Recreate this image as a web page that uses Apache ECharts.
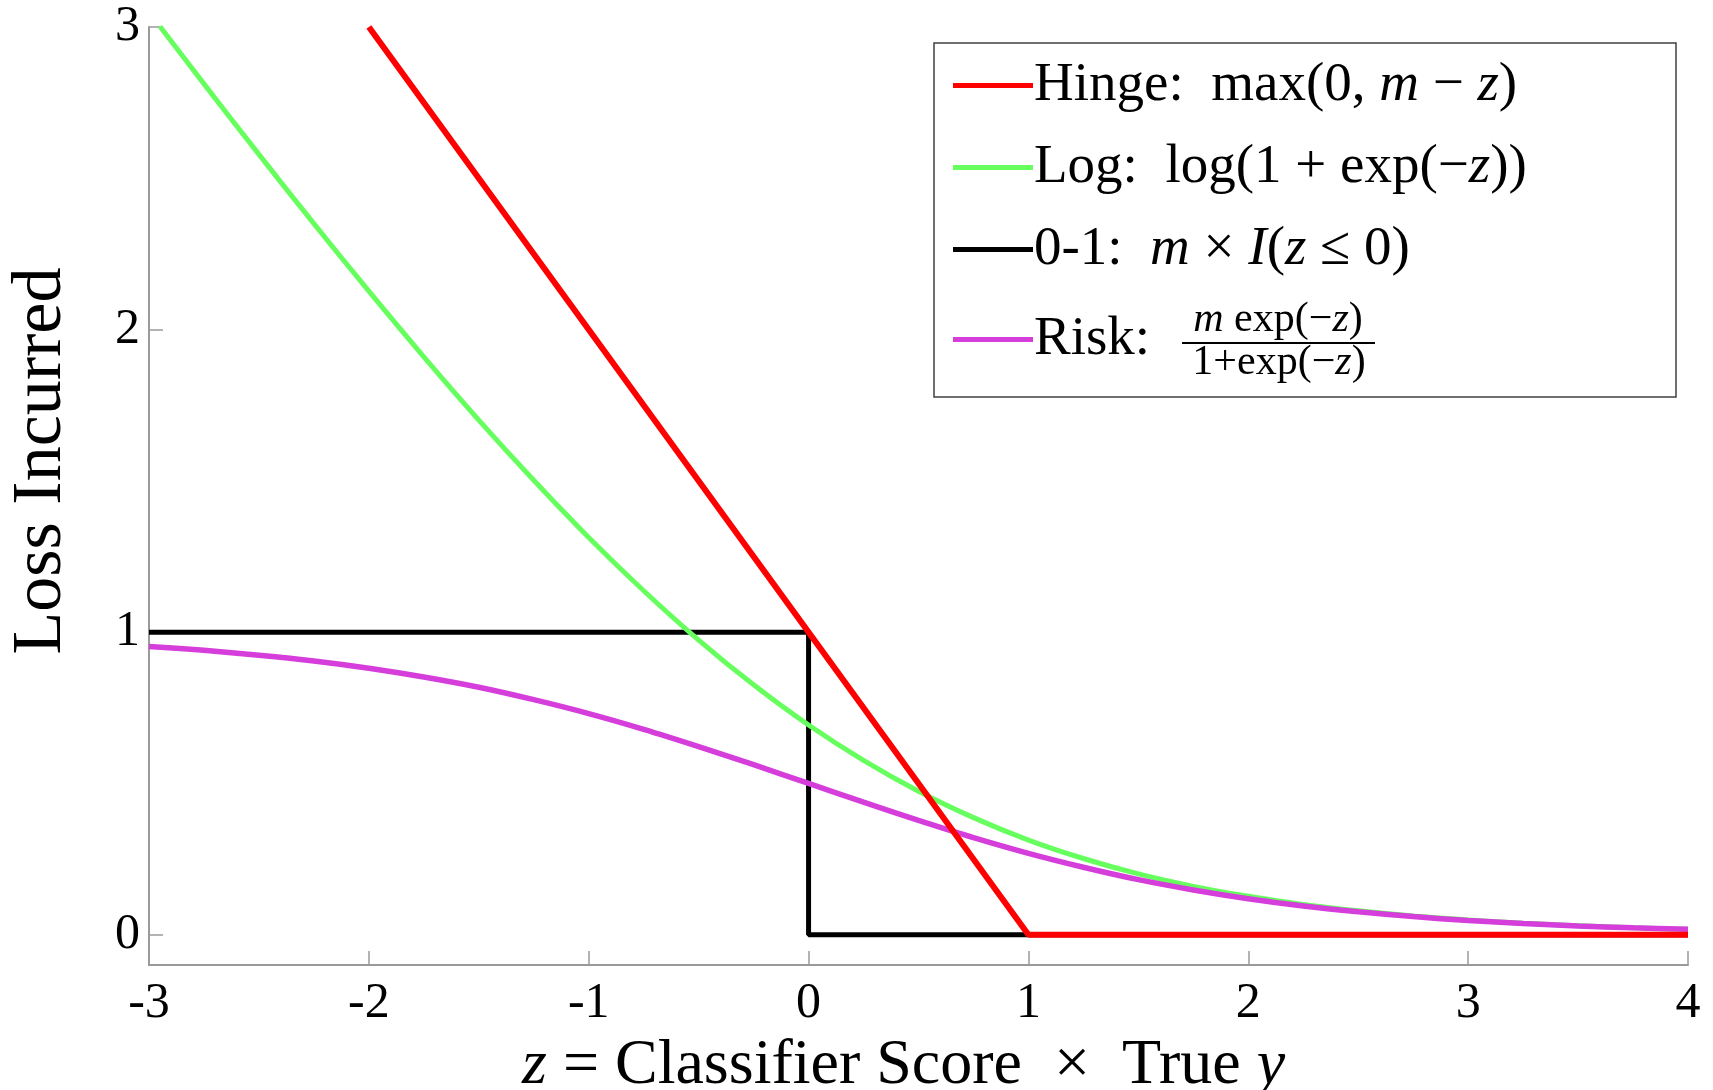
<!DOCTYPE html>
<html>
<head>
<meta charset="utf-8">
<script src="https://cdn.jsdelivr.net/npm/echarts@6/dist/echarts.min.js"></script>
<style>
html,body{margin:0;padding:0;background:#fff;}
#chart{width:1713px;height:1090px;}
</style>
</head>
<body>
<div id="chart"></div>
<script>
// ---- data ----
const hingeData = [[-2, 3.0], [1, 0.0], [4, 0.0]];
const logZ = [-2.95, -2.75, -2.5, -2.25, -2, -1.75, -1.5, -1.25, -1, -0.75, -0.5, -0.25, 0, 0.25, 0.5, 0.75, 1, 1.25, 1.5, 1.75, 2, 2.25, 2.5, 2.75, 3, 3.25, 3.5, 3.75, 4];
const logVals = [3.002, 2.812, 2.579, 2.350, 2.127, 1.910, 1.701, 1.502, 1.313, 1.137, 0.974, 0.826, 0.693, 0.576, 0.474, 0.387, 0.313, 0.252, 0.201, 0.160, 0.127, 0.100, 0.079, 0.062, 0.049, 0.038, 0.030, 0.023, 0.018];
const riskZ = [-3, -2.75, -2.5, -2.25, -2, -1.75, -1.5, -1.25, -1, -0.75, -0.5, -0.25, 0, 0.25, 0.5, 0.75, 1, 1.25, 1.5, 1.75, 2, 2.25, 2.5, 2.75, 3, 3.25, 3.5, 3.75, 4];
const riskVals = [0.953, 0.940, 0.924, 0.905, 0.881, 0.852, 0.818, 0.777, 0.731, 0.679, 0.622, 0.562, 0.500, 0.438, 0.378, 0.321, 0.269, 0.223, 0.182, 0.148, 0.119, 0.095, 0.076, 0.060, 0.047, 0.037, 0.029, 0.023, 0.018];
const zeroOneData = [[-3, 1], [0, 1], [0, 0], [4, 0]];
const xTicks = [-3, -2, -1, 0, 1, 2, 3, 4];
const yTicks = [0, 1, 2, 3];
const seriesNames = ['Hinge', 'Log', '0-1', 'Risk'];
const seriesColors = {Hinge: '#ff0000', Log: '#66ff5e', '0-1': '#000000', Risk: '#d63edc'};

const SERIF = 'Liberation Serif';

function zip(xs, ys) { return xs.map((x, i) => [x, ys[i]]); }

const chart = echarts.init(document.getElementById('chart'));

const legendRich = {
  t: {fontFamily: SERIF, fontSize: 55, color: '#000'},
  i: {fontFamily: SERIF, fontSize: 55, color: '#000', fontStyle: 'italic'}
};

function legendText(name) {
  if (name === 'Hinge') return '{t|Hinge:  max(0, }{i|m}{t| − }{i|z}{t|)}';
  if (name === 'Log') return '{t|Log:  log(1 + exp(−}{i|z}{t|))}';
  if (name === '0-1') return '{t|0-1:  }{i|m}{t| × }{i|I}{t|(}{i|z}{t| ≤ 0)}';
  return '{t|Risk:}';
}

const legendBase = {
  orient: 'vertical',
  left: 953,
  itemWidth: 80,
  itemHeight: 5,
  icon: 'rect',
  padding: 0,
  textStyle: {fontFamily: SERIF, fontSize: 55, color: '#000', padding: [0, 0, 0, -4], rich: legendRich},
  formatter: legendText
};

const option = {
  backgroundColor: '#ffffff',
  animation: false,
  grid: {left: 149, right: 25, top: 27, bottom: 125, containLabel: false, outerBoundsMode: 'none'},
  xAxis: {
    type: 'value',
    min: -3, max: 4, interval: 1,
    name: '{i|z} = Classifier Score  ×  True {i|y}',
    nameLocation: 'middle',
    nameGap: 62,
    nameTextStyle: {
      fontFamily: SERIF, fontSize: 64, color: '#000', padding: [0, 30, 0, 0],
      rich: {
        i: {fontFamily: SERIF, fontSize: 64, fontStyle: 'italic', color: '#000'}
      }
    },
    axisLine: {onZero: false, lineStyle: {color: '#9a9a9a', width: 2}},
    axisTick: {inside: true, length: 14, lineStyle: {color: '#9a9a9a', width: 1.5}, customValues: xTicks},
    axisLabel: {fontFamily: SERIF, fontSize: 50, color: '#000', margin: 14, customValues: xTicks,
      formatter: v => String(v)},
    splitLine: {show: false}
  },
  yAxis: {
    type: 'value',
    min: -0.1, max: 3,
    name: 'Loss Incurred',
    nameLocation: 'middle',
    nameRotate: 90,
    nameGap: 72,
    nameTextStyle: {fontFamily: SERIF, fontSize: 70, color: '#000', padding: [0, 0, 0, 70]},
    axisLine: {onZero: false, lineStyle: {color: '#9a9a9a', width: 2}},
    axisTick: {inside: true, length: 14, lineStyle: {color: '#9a9a9a', width: 1.5}, customValues: yTicks},
    axisLabel: {fontFamily: SERIF, fontSize: 50, color: '#000', margin: 9, customValues: yTicks,
      formatter: v => String(v)},
    splitLine: {show: false}
  },
  legend: [
    Object.assign({}, legendBase, {data: ['Hinge', 'Log', '0-1'], top: 58, itemGap: 27}),
    Object.assign({}, legendBase, {data: ['Risk'], top: 312, itemGap: 0})
  ],
  graphic: [
    {
      type: 'rect', z: 0,
      shape: {x: 934, y: 43, width: 742, height: 354},
      style: {fill: '#ffffff', stroke: '#404040', lineWidth: 1.5}
    },
    {
      type: 'text', z: 10,
      style: {x: 1278, y: 320, text: '{i|m} exp(−{i|z})', align: 'center', verticalAlign: 'middle',
        font: '42px Liberation Serif', fill: '#000',
        rich: {i: {fontFamily: SERIF, fontSize: 42, fontStyle: 'italic', fill: '#000'}}}
    },
    {
      type: 'line', z: 10,
      shape: {x1: 1182, y1: 343, x2: 1375, y2: 343},
      style: {stroke: '#000', lineWidth: 2}
    },
    {
      type: 'text', z: 10,
      style: {x: 1279, y: 363, text: '1+exp(−{i|z})', align: 'center', verticalAlign: 'middle',
        font: '42px Liberation Serif', fill: '#000',
        rich: {i: {fontFamily: SERIF, fontSize: 42, fontStyle: 'italic', fill: '#000'}}}
    }
  ],
  series: [
    {name: '0-1', type: 'line', data: zeroOneData, showSymbol: false, symbol: 'none',
      lineStyle: {color: seriesColors['0-1'], width: 5}, itemStyle: {color: seriesColors['0-1']}, z: 2},
    {name: 'Log', type: 'line', data: zip(logZ, logVals), smooth: 0.3, showSymbol: false, symbol: 'none',
      lineStyle: {color: seriesColors.Log, width: 5}, itemStyle: {color: seriesColors.Log}, z: 3},
    {name: 'Risk', type: 'line', data: zip(riskZ, riskVals), smooth: 0.3, showSymbol: false, symbol: 'none',
      lineStyle: {color: seriesColors.Risk, width: 5.5}, itemStyle: {color: seriesColors.Risk}, z: 4},
    {name: 'Hinge', type: 'line', data: hingeData, showSymbol: false, symbol: 'none',
      lineStyle: {color: seriesColors.Hinge, width: 6}, itemStyle: {color: seriesColors.Hinge}, z: 5}
  ]
};

chart.setOption(option);
</script>
</body>
</html>
